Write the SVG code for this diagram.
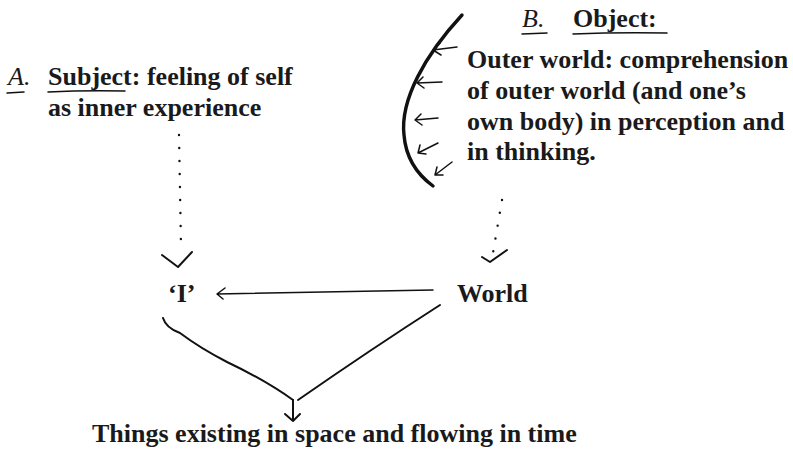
<svg xmlns="http://www.w3.org/2000/svg" width="793" height="454" viewBox="0 0 793 454">
<style>
text{font-family:"Liberation Serif","Times New Roman",serif;font-size:26px;font-weight:bold;fill:#1a1a1a}
.ln{fill:none;stroke:#111;stroke-width:2;stroke-linecap:round;stroke-linejoin:round}
.thin{fill:none;stroke:#111;stroke-width:1.5;stroke-linecap:round;stroke-linejoin:round}
.dot{fill:none;stroke:#111;stroke-width:2.4;stroke-linecap:round;stroke-dasharray:0 13}
.hand{font-family:"Liberation Serif",serif;font-style:italic;font-weight:normal}
</style>
<rect width="793" height="454" fill="#fff"/>
<g id="subject">
<text x="8" y="85" class="hand">A.</text>
<path class="thin" d="M7 93 L24 92"/>
<text x="48" y="85">Subject: feeling of self</text>
<path class="thin" d="M48 92 Q86 90 125 91"/>
<text x="48" y="116">as inner experience</text>
</g>
<g id="object">
<text x="522" y="27" class="hand">B.</text>
<path class="thin" d="M522 34 L547 33"/>
<text x="573" y="27">Object:</text>
<path class="thin" d="M573 34 Q620 32 667 33"/>
<text x="467" y="68">Outer world: comprehension</text>
<text x="467" y="99">of outer world (and one’s</text>
<text x="467" y="130">own body) in perception and</text>
<text x="467" y="160">in thinking.</text>
<path d="M462 15 C425 55 400 100 404 135 C406 160 418 175 433 186" fill="none" stroke="#111" stroke-width="3.4" stroke-linecap="round"/>
<g class="thin">
<path d="M457 47 L433 50 M440 43 L433 50 L441 55"/>
<path d="M442 82 L417 83 M423 77 L417 83 L424 88"/>
<path d="M438 118 L415 120 M421 114 L415 120 L422 125"/>
<path d="M438 143 L418 153 M420 145 L418 153 L426 154"/>
<path d="M452 162 L435 175 M437 167 L435 175 L443 175"/>
</g>
</g>
<g id="I"><text x="168" y="302">‘I’</text></g>
<g id="World"><text x="457" y="302">World</text></g>
<g id="things"><text x="92" y="442">Things existing in space and flowing in time</text></g>
<g id="connectors">
<path class="dot" d="M179 135 L181 245"/>
<path class="ln" d="M162 255 L178 267 L192 252"/>
<path class="dot" d="M502 200 L493 253"/>
<path class="ln" d="M482 257 L490 262 L507 250"/>
<path class="thin" d="M433 290 Q330 292 217 294 M225 288 L217 294 L223 299"/>
<path class="ln" d="M163 318 Q166 328 180 333 Q200 348 227 362 Q265 380 293 400"/>
<path class="ln" d="M440 305 Q370 350 298 400"/>
<path class="ln" d="M293 400 L293 421 M285 414 L293 421 L300 414"/>
</g>
</svg>
